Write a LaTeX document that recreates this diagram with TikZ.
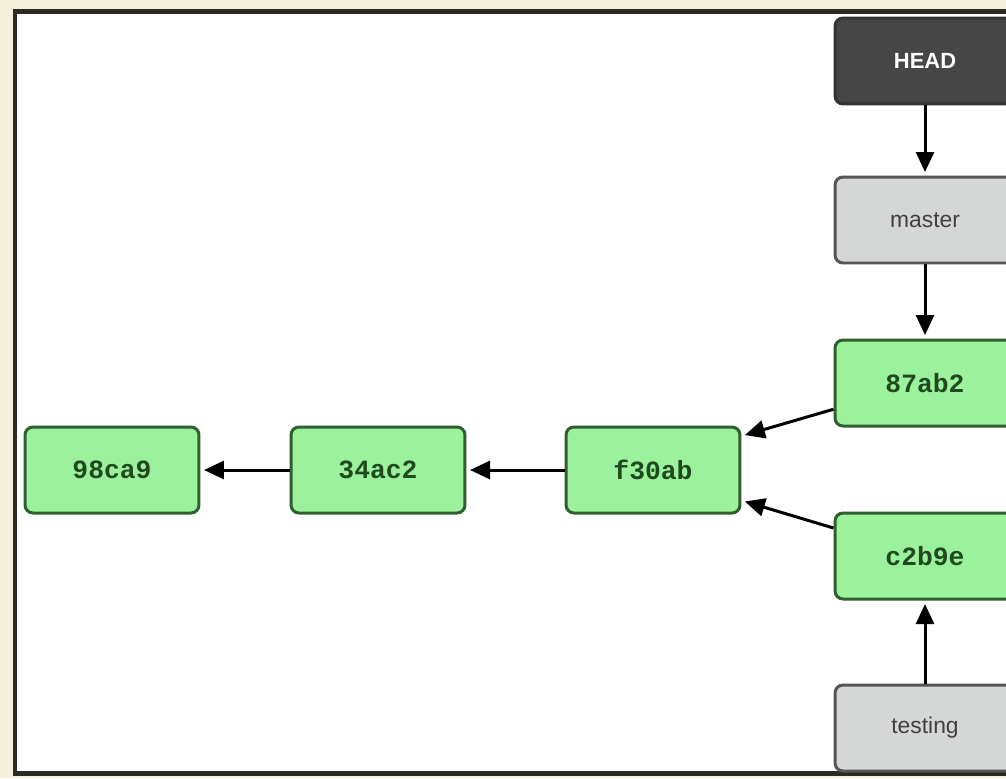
\documentclass[tikz,border=0pt]{standalone}
\usepackage{fontspec}
\setmainfont{Liberation Sans}
\newfontfamily\hashfont{Liberation Mono}
\usetikzlibrary{arrows.meta}
\definecolor{bgbeige}{HTML}{F4EFDA}
\definecolor{frameline}{HTML}{2B2A24}
\definecolor{commitfill}{HTML}{9CF29C}
\definecolor{commitline}{HTML}{2F5F2F}
\definecolor{committext}{HTML}{1F4A1F}
\definecolor{reffill}{HTML}{D5D6D6}
\definecolor{refline}{HTML}{555555}
\definecolor{headfill}{HTML}{464646}

\begin{document}
\begin{tikzpicture}[x=0.02cm,y=-0.02cm,
  box/.style={rounded corners=0.16cm, line width=0.06cm,
    minimum width=3.48cm, minimum height=1.72cm, inner sep=0pt},
  commit/.style={box, draw=commitline, fill=commitfill, text=committext,
    font=\hashfont\bfseries\fontsize{15}{18}\selectfont},
  branch/.style={box, draw=refline, fill=reffill, text=black!75,
    font=\fontsize{13}{16}\selectfont},
  headbox/.style={box, draw=black!80, fill=headfill, text=white,
    font=\bfseries\fontsize{12.5}{15}\selectfont},
  arr/.style={line width=0.06cm, -{Triangle[length=0.4cm,width=0.36cm]},
    shorten >=2pt}]
 \useasboundingbox (0,0) rectangle (1006,778);
 \fill[bgbeige] (0,0) rectangle (1006,778);
 \draw[frameline, line width=0.1cm, fill=white] (15,11) rectangle (1030,773);
 % commits
 \node[commit] (c98ca9) at (112,470) {98ca9};
 \node[commit] (c34ac2) at (378,470) {34ac2};
 \node[commit] (cf30ab) at (653,470) {f30ab};
 \node[commit, minimum width=3.6cm] (c87ab2) at (925,383) {87ab2};
 \node[commit, minimum width=3.6cm] (cc2b9e) at (925,556) {c2b9e};
 % pointers
 \node[headbox, minimum width=3.6cm] (head) at (925,61) {HEAD};
 \node[branch, minimum width=3.6cm] (master) at (925,220) {master};
 \node[branch, minimum width=3.6cm] (testing) at (925,728) {testing};
 \draw[arr] (head) -- (master);
 \draw[arr] (master) -- (c87ab2);
 \draw[arr] (testing) -- (cc2b9e);
 \draw[arr] (c87ab2.196) -- (cf30ab.21);
 \draw[arr] (cc2b9e.163) -- (cf30ab.-19);
 \draw[arr] (cf30ab) -- (c34ac2);
 \draw[arr] (c34ac2) -- (c98ca9);
\end{tikzpicture}
\end{document}
